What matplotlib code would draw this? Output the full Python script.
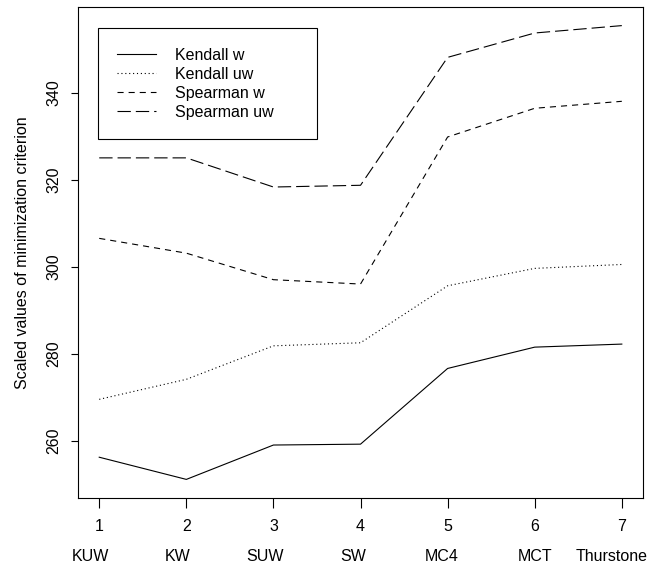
import matplotlib.pyplot as plt

methods = ["KUW", "KW", "SUW", "SW", "MC4", "MCT", "Thurstone"]
x = [1, 2, 3, 4, 5, 6, 7]

kendall_w = [256.2, 251.1, 259.0, 259.2, 276.6, 281.5, 282.2]
kendall_uw = [269.5, 274.1, 281.8, 282.5, 295.6, 299.6, 300.5]
spearman_w = [306.5, 303.1, 297.0, 296.0, 329.8, 336.4, 338.0]
spearman_uw = [325.0, 325.0, 318.3, 318.7, 348.1, 353.7, 355.4]

# horizontal nudges (points) of the method names under the axis
name_shift = [-6, -6, -6, -5, -4, 0, -7]

plt.rcParams['font.family'] = ['Liberation Sans', 'DejaVu Sans']
plt.rcParams['font.size'] = 11.5

fig = plt.figure(figsize=(6.5, 5.64), dpi=100)
ax = fig.add_axes([0.1205, 0.1176, 0.8683, 0.8694])

lw = 0.8
ax.plot(x, kendall_w, color='black', lw=lw, label="Kendall w")
ax.plot(x, kendall_uw, color='black', lw=lw, dashes=(1, 2.5), label="Kendall uw")
ax.plot(x, spearman_w, color='black', lw=lw, dashes=(5.5, 4.5), label="Spearman w")
ax.plot(x, spearman_uw, color='black', lw=lw, dashes=(12, 4.5), label="Spearman uw")

ax.set_xlim(0.76, 7.24)
ax.set_ylim(246.9, 359.6)
ax.set_xticks(x)
ax.set_yticks([260, 280, 300, 320, 340])
ax.tick_params(axis='x', length=7.5, width=0.8, pad=8)
ax.tick_params(axis='y', length=5, width=0.8, pad=7, labelrotation=90)
for lab in ax.get_yticklabels():
    lab.set_va('center')
for s in ax.spines.values():
    s.set_linewidth(0.8)

ax.set_ylabel("Scaled values of minimization criterion", labelpad=12)

for xi, name, dx in zip(x, methods, name_shift):
    ax.annotate(name, xy=(xi, 0), xycoords=('data', 'axes fraction'),
                xytext=(dx, -42), textcoords='offset points',
                ha='center', va='center')

leg = ax.legend(loc='upper left', bbox_to_anchor=(0.0354, 0.736, 0.387, 0.221),
                mode='expand', borderaxespad=0, fancybox=False, framealpha=1,
                edgecolor='black', handlelength=2.4, handletextpad=1.2,
                borderpad=1.2, labelspacing=0.25)
leg.get_frame().set_linewidth(0.8)

fig.savefig("out.png", dpi=100)
